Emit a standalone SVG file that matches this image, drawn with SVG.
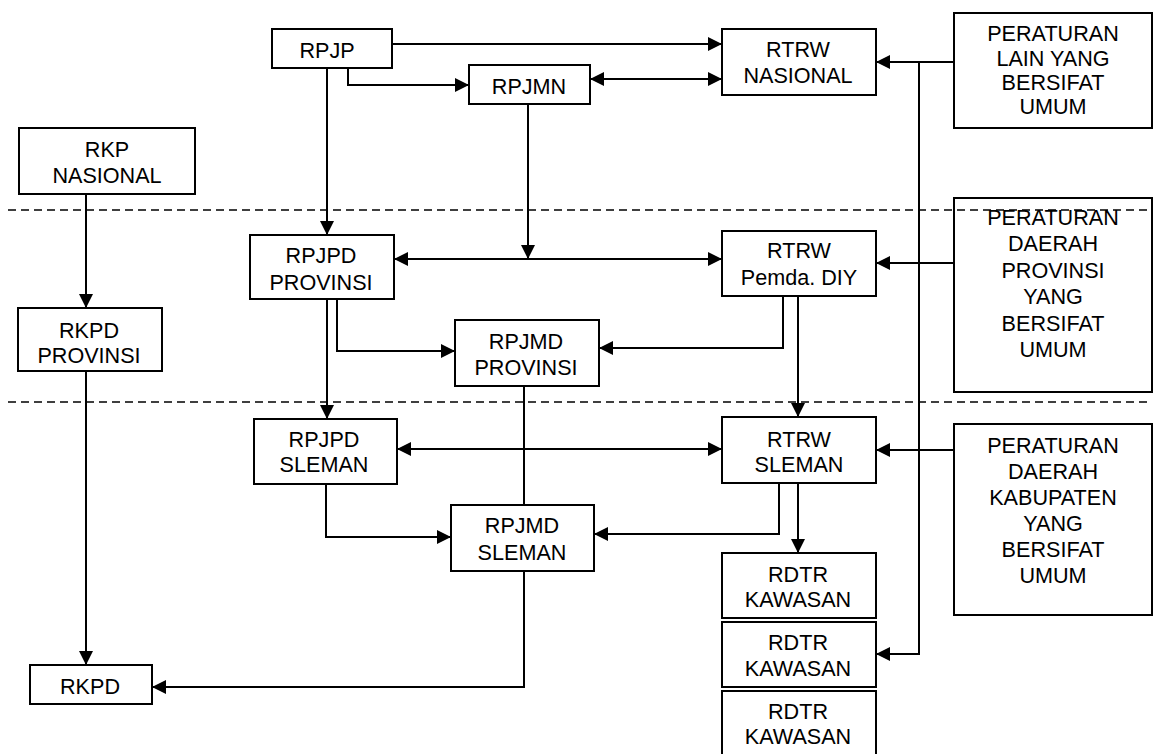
<svg xmlns="http://www.w3.org/2000/svg" width="1153" height="754" viewBox="0 0 1153 754">
<style>
.box{fill:#fff;stroke:#000;stroke-width:2}
.t{font-family:"Liberation Sans",Arial,sans-serif;font-size:21.6px;fill:#000;text-anchor:middle}
.c{fill:none;stroke:#000;stroke-width:2}
.d{fill:none;stroke:#000;stroke-width:1.6;stroke-dasharray:8 5}
</style>
<defs>
<marker id="a" markerUnits="userSpaceOnUse" markerWidth="15" markerHeight="15" refX="14" refY="7" orient="auto-start-reverse" viewBox="0 0 15 15">
<path d="M0,0 L14,7 L0,14 z" fill="#000"/>
</marker>
</defs>
<g id="n-rpjp"><rect class="box" x="272" y="29" width="120" height="39"/><text class="t" x="327" y="57.5">RPJP</text></g>
<g id="n-rkp-nasional"><rect class="box" x="19" y="128" width="176" height="66"/><text class="t" x="107" y="157">RKP</text><text class="t" x="107" y="183">NASIONAL</text></g>
<g id="n-rpjmn"><rect class="box" x="469" y="65" width="121" height="39"/><text class="t" x="529" y="94">RPJMN</text></g>
<g id="n-rtrw-nasional"><rect class="box" x="722" y="29" width="154" height="66"/><text class="t" x="798" y="57">RTRW</text><text class="t" x="798" y="83">NASIONAL</text></g>
<g id="n-per-lain"><rect class="box" x="954" y="13" width="198" height="115"/><text class="t" x="1053" y="41">PERATURAN</text><text class="t" x="1053" y="65.5">LAIN YANG</text><text class="t" x="1053" y="89.5">BERSIFAT</text><text class="t" x="1053" y="113.5">UMUM</text></g>
<g id="n-per-prov"><rect class="box" x="954" y="198" width="198" height="194"/><text class="t" x="1053" y="225">PERATURAN</text><text class="t" x="1053" y="251">DAERAH</text><text class="t" x="1053" y="277.5">PROVINSI</text><text class="t" x="1053" y="304">YANG</text><text class="t" x="1053" y="330.5">BERSIFAT</text><text class="t" x="1053" y="356.5">UMUM</text></g>
<g id="n-per-kab"><rect class="box" x="954" y="424" width="198" height="191"/><text class="t" x="1053" y="453">PERATURAN</text><text class="t" x="1053" y="479">DAERAH</text><text class="t" x="1053" y="505">KABUPATEN</text><text class="t" x="1053" y="531">YANG</text><text class="t" x="1053" y="557">BERSIFAT</text><text class="t" x="1053" y="583">UMUM</text></g>
<g id="n-rpjpd-prov"><rect class="box" x="250" y="235" width="144" height="64"/><text class="t" x="321" y="263">RPJPD</text><text class="t" x="321" y="290">PROVINSI</text></g>
<g id="n-rtrw-diy"><rect class="box" x="722" y="231" width="154" height="65"/><text class="t" x="799" y="258">RTRW</text><text class="t" x="799" y="285">Pemda. DIY</text></g>
<g id="n-rkpd-prov"><rect class="box" x="18" y="308" width="144" height="63"/><text class="t" x="89" y="338">RKPD</text><text class="t" x="89" y="363">PROVINSI</text></g>
<g id="n-rpjmd-prov"><rect class="box" x="455" y="320" width="144" height="66"/><text class="t" x="526" y="349">RPJMD</text><text class="t" x="526" y="375">PROVINSI</text></g>
<g id="n-rpjpd-sleman"><rect class="box" x="254" y="419" width="143" height="65"/><text class="t" x="324" y="447">RPJPD</text><text class="t" x="324" y="472">SLEMAN</text></g>
<g id="n-rtrw-sleman"><rect class="box" x="722" y="417" width="154" height="66"/><text class="t" x="799" y="447">RTRW</text><text class="t" x="799" y="472">SLEMAN</text></g>
<g id="n-rpjmd-sleman"><rect class="box" x="451" y="505" width="143" height="66"/><text class="t" x="522" y="533">RPJMD</text><text class="t" x="522" y="560">SLEMAN</text></g>
<g id="n-rkpd"><rect class="box" x="30" y="665" width="122" height="39"/><text class="t" x="90" y="694">RKPD</text></g>
<g id="n-rdtr1"><rect class="box" x="722" y="553" width="154" height="65"/><text class="t" x="798" y="582">RDTR</text><text class="t" x="798" y="607">KAWASAN</text></g>
<g id="n-rdtr2"><rect class="box" x="722" y="622" width="154" height="65"/><text class="t" x="798" y="650">RDTR</text><text class="t" x="798" y="676">KAWASAN</text></g>
<g id="n-rdtr3"><rect class="box" x="722" y="691" width="154" height="70"/><text class="t" x="798" y="719">RDTR</text><text class="t" x="798" y="744">KAWASAN</text></g>
<g id="connectors">
<path class="c" d="M392,44 H722" marker-end="url(#a)"/>
<path class="c" d="M348,68 V85 H469" marker-end="url(#a)"/>
<path class="c" d="M590,79 H722" marker-start="url(#a)" marker-end="url(#a)"/>
<path class="c" d="M327,68 V235" marker-end="url(#a)"/>
<path class="c" d="M528,104 V259" marker-end="url(#a)"/>
<path class="c" d="M394,259 H722" marker-start="url(#a)" marker-end="url(#a)"/>
<path class="c" d="M954,62 H876" marker-end="url(#a)"/>
<path class="c" d="M919,62 V654 H876" marker-end="url(#a)"/>
<path class="c" d="M954,263 H876" marker-end="url(#a)"/>
<path class="c" d="M954,450 H876" marker-end="url(#a)"/>
<path class="c" d="M86,194 V308" marker-end="url(#a)"/>
<path class="c" d="M86,371 V665" marker-end="url(#a)"/>
<path class="c" d="M327,299 V419" marker-end="url(#a)"/>
<path class="c" d="M337,299 V351 H455" marker-end="url(#a)"/>
<path class="c" d="M783,296 V348 H599" marker-end="url(#a)"/>
<path class="c" d="M798,296 V417" marker-end="url(#a)"/>
<path class="c" d="M524,386 V505"/>
<path class="c" d="M397,449 H722" marker-start="url(#a)" marker-end="url(#a)"/>
<path class="c" d="M326,484 V537 H451" marker-end="url(#a)"/>
<path class="c" d="M779,483 V534 H594" marker-end="url(#a)"/>
<path class="c" d="M798,483 V553" marker-end="url(#a)"/>
<path class="c" d="M524,571 V687 H152" marker-end="url(#a)"/>
</g>
<g id="dividers">
<path class="d" d="M8,210 H1152"/>
<path class="d" d="M8,402 H1152"/>
</g>
</svg>
